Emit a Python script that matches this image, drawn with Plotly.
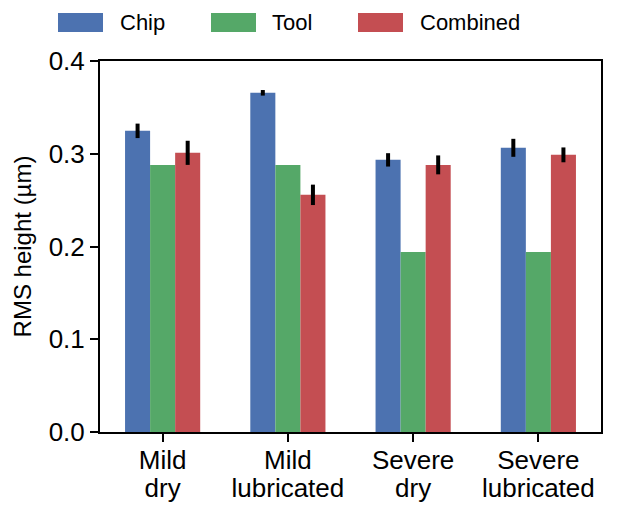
import plotly.graph_objects as go

categories = ["Mild<br>dry", "Mild<br>lubricated", "Severe<br>dry", "Severe<br>lubricated"]
series_names = ["Chip", "Tool", "Combined"]
chip = [0.3247, 0.3657, 0.2934, 0.3064]
chip_err = [0.0078, 0.003, 0.0072, 0.0097]
tool = [0.288, 0.288, 0.1942, 0.1942]
tool_err = [0, 0, 0, 0]
combined = [0.301, 0.2557, 0.288, 0.2988]
combined_err = [0.013, 0.011, 0.0102, 0.008]
colors = ["#4C72B0", "#55A868", "#C44E52"]
yticks = [0.0, 0.1, 0.2, 0.3, 0.4]

font = "Liberation Sans, Arial, sans-serif"
AX = 26
LEG = 22
TITLE = 24

# page offset compensation (default 8px body margin)
OFF = 8
W, H = 634 - OFF, 505 - OFF
L, R, T, B = 100 - OFF, 33, 61 - OFF, 73
PW, PH = W - L - R, H - T - B


def px_x(x):
    return (x - OFF - L) / PW


def px_y(y):
    return (H - B - (y - OFF)) / PH


# tighter line spacing for two-line category labels
tick_text = ["<br>".join(f'<span style="font-size:{AX}px">{part}</span>'
                         for part in c.split("<br>")) for c in categories]

fig = go.Figure()
for name, vals, errs, col in zip(series_names, [chip, tool, combined],
                                 [chip_err, tool_err, combined_err], colors):
    has_err = any(e > 0 for e in errs)
    fig.add_trace(go.Bar(
        x=categories, y=vals, name=name, marker_color=col, marker_line_width=0,
        showlegend=False,
        error_y=dict(type="data", array=errs, visible=has_err, color="black",
                     thickness=4, width=0),
    ))

# manual legend (wide swatches, as in the reference)
legend_items = [(58, 118), (211, 270), (358, 418)]
shapes, annotations = [], []
for (sx, tx), name, col in zip(legend_items, series_names, colors):
    shapes.append(dict(type="rect", xref="paper", yref="paper",
                       x0=px_x(sx), x1=px_x(sx + 45), y0=px_y(32), y1=px_y(13),
                       fillcolor=col, line=dict(width=0)))
    annotations.append(dict(xref="paper", yref="paper", x=px_x(tx), y=px_y(22),
                            xanchor="left", yanchor="middle", text=name,
                            showarrow=False, font=dict(size=LEG, family=font)))

fig.update_layout(
    width=W, height=H,
    barmode="group", bargap=0.4, bargroupgap=0,
    plot_bgcolor="white", paper_bgcolor="white",
    margin=dict(l=L, r=R, t=T, b=B, autoexpand=False),
    font=dict(family=font, size=AX, color="black"),
    showlegend=False,
    shapes=shapes, annotations=annotations,
)
fig.update_xaxes(
    showline=True, linecolor="black", linewidth=2, mirror=True,
    ticks="outside", ticklen=8, tickwidth=1.5, tickcolor="black",
    tickfont=dict(size=21), range=[-0.5, 3.5], ticklabelstandoff=2,
    tickvals=categories, ticktext=tick_text,
)
fig.update_yaxes(
    range=[0, 0.4], tickvals=yticks, tickformat=".1f",
    showline=True, linecolor="black", linewidth=2, mirror=True,
    ticks="outside", ticklen=8, tickwidth=1.5, tickcolor="black",
    showgrid=False, zeroline=False, tickfont=dict(size=AX),
    title=dict(text="RMS height (µm)", font=dict(size=TITLE), standoff=10),
)
fig.write_html("out.html")
